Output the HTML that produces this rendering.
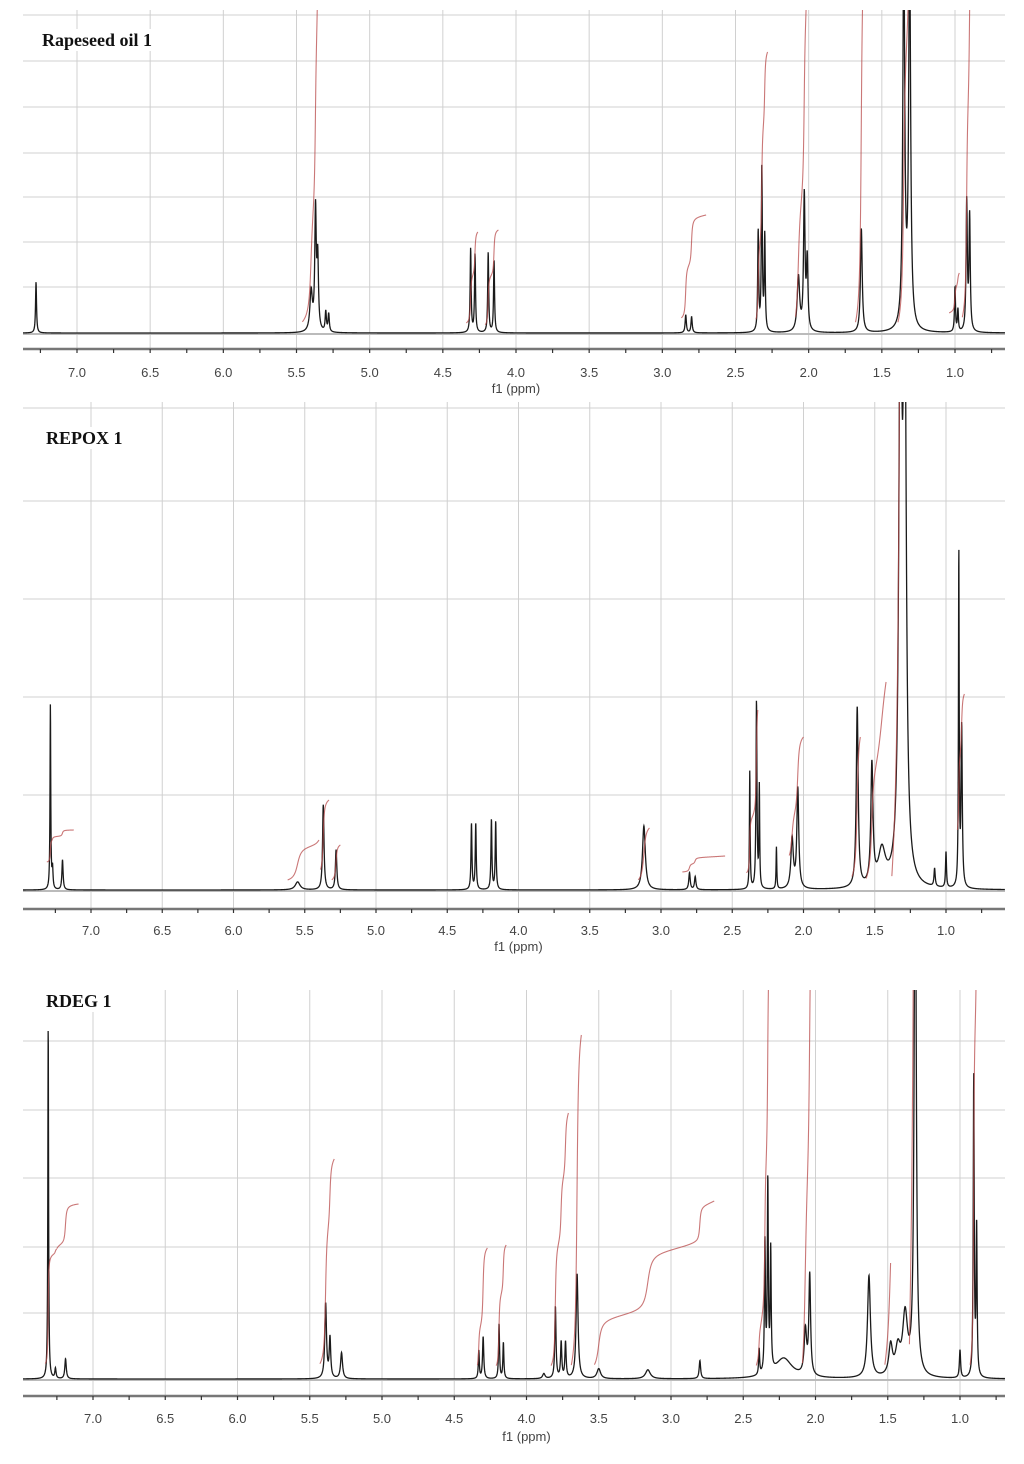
<!DOCTYPE html>
<html><head><meta charset="utf-8"><title>NMR spectra</title>
<style>
html,body{margin:0;padding:0;background:#fff;}
svg{display:block;}
text{font-family:"Liberation Sans",sans-serif;}
.title{font-family:"Liberation Serif",serif;font-weight:bold;font-size:18px;fill:#111;}
.tick{font-size:13px;fill:#444;}
</style></head>
<body>
<svg id="chart" width="1024" height="1464" viewBox="0 0 1024 1464" xmlns="http://www.w3.org/2000/svg"></svg>
<script>
// ---- data: peaks [ppm, intensity, width(ppm)] ----
const peaks1 = [[7.28,51,0.004],[5.40,40,0.01],[5.37,120,0.006],[5.355,70,0.006],[5.30,20,0.005],[5.28,18,0.005],
 [4.31,84,0.004],[4.28,78,0.004],[4.19,80,0.004],[4.15,72,0.004],[2.84,18,0.005],[2.80,16,0.005],
 [2.345,100,0.004],[2.32,165,0.004],[2.30,95,0.004],[2.07,55,0.01],[2.03,135,0.006],[2.01,70,0.006],
 [1.64,104,0.007],[1.35,380,0.008],[1.31,380,0.008],[1.00,45,0.004],[0.98,22,0.004],[0.92,130,0.005],[0.90,115,0.005]];
const integrals1 = [[5.46,5.32,11,420],[4.34,4.26,10,101],[4.21,4.12,8,103],[2.87,2.70,15,118],[2.36,2.28,13,281],
 [2.09,1.99,15,420],[1.68,1.55,10,420],[1.39,1.31,10,420],[0.95,0.87,15,420],[1.04,0.97,20,60]];

const peaks2 = [[7.285,185,0.003],[7.27,20,0.004],[7.20,30,0.005],[5.55,8,0.02],[5.37,85,0.006],[5.28,40,0.006],
 [4.33,66,0.004],[4.30,66,0.004],[4.19,70,0.004],[4.16,68,0.004],[3.12,64,0.012],[2.80,17,0.006],[2.76,13,0.006],
 [2.377,118,0.003],[2.33,188,0.004],[2.31,100,0.003],[2.19,42,0.003],[2.08,50,0.01],[2.04,100,0.008],
 [1.623,180,0.008],[1.52,120,0.009],[1.45,35,0.03],[1.32,600,0.012],[1.29,600,0.012],[1.08,18,0.005],[1.00,36,0.004],
 [0.91,335,0.003],[0.89,160,0.005]];
const integrals2 = [[7.31,7.12,28,60],[5.62,5.40,10,50],[5.39,5.33,20,90],[5.31,5.25,10,45],[3.16,3.08,10,62],
 [2.85,2.55,18,34],[2.40,2.32,17,180],[2.10,2.00,34,153],[1.66,1.60,13,153],[1.56,1.42,11,208],[1.38,1.32,11,700],[0.92,0.87,59,196]];

const peaks3 = [[7.31,355,0.003],[7.26,10,0.005],[7.19,20,0.006],[5.39,75,0.007],[5.36,40,0.006],[5.28,26,0.008],
 [4.33,28,0.004],[4.30,42,0.005],[4.19,55,0.004],[4.16,36,0.004],[3.88,5,0.01],[3.80,72,0.005],[3.76,36,0.005],[3.73,36,0.005],
 [3.65,105,0.008],[3.50,10,0.015],[3.16,9,0.02],[2.80,18,0.006],[2.39,26,0.004],[2.35,130,0.004],[2.33,190,0.004],[2.31,120,0.004],
 [2.22,20,0.07],[2.07,45,0.01],[2.04,100,0.007],[1.63,102,0.012],[1.48,30,0.015],[1.43,26,0.02],[1.38,60,0.02],
 [1.31,600,0.008],[1.00,28,0.005],[0.905,300,0.004],[0.885,150,0.004]];
const integrals3 = [[7.33,7.25,15,130],[7.25,7.10,130,175],[5.43,5.33,15,220],[4.34,4.27,13,131],[4.21,4.14,13,134],
 [3.83,3.71,13,266],[3.69,3.62,13,344],[3.53,2.70,14,178],[2.41,2.31,13,500],[2.09,2.01,13,500],[1.52,1.48,13,116],
 [1.35,1.32,25,500],[0.93,0.88,13,500]];

const tickLabels = ["7.0","6.5","6.0","5.5","5.0","4.5","4.0","3.5","3.0","2.5","2.0","1.5","1.0"];
const tickValues = [7.0,6.5,6.0,5.5,5.0,4.5,4.0,3.5,3.0,2.5,2.0,1.5,1.0];

const panels = [
 {name:"rapeseed-oil-1",title:"Rapeseed oil 1",tx:42,ty:46,x7:77,x1:955,top:10,base:333,axisY:349,lblY:377,f1Y:393,
  hgrid:[15,61,107,153,197,242,287],peaks:peaks1,ints:integrals1},
 {name:"repox-1",title:"REPOX 1",tx:46,ty:444,x7:91,x1:946,top:402,base:890,axisY:909,lblY:935,f1Y:951,
  hgrid:[408,501,599,697,795],peaks:peaks2,ints:integrals2},
 {name:"rdeg-1",title:"RDEG 1",tx:46,ty:1007,x7:93,x1:960,top:990,base:1379,axisY:1396,lblY:1423,f1Y:1441,
  hgrid:[1041,1110,1178,1247,1313],peaks:peaks3,ints:integrals3}
];
const L=23,R=1005,NS="http://www.w3.org/2000/svg";
const svg=document.getElementById('chart');
function mk(tag,attrs,parent){const e=document.createElementNS(NS,tag);for(const k in attrs)e.setAttribute(k,attrs[k]);parent.appendChild(e);return e;}
function spec(peaks,p){let s=0;for(const q of peaks){const d=(p-q[0])/q[2];s+=q[1]/(1+d*d);}return s;}

panels.forEach((P,pi)=>{
 const g=mk('g',{},svg);
 
 
 const sc=(P.x1-P.x7)/6;
 const xm=p=>P.x7+(7-p)*sc;
 const ym=v=>P.base-v;
 const pL=7-(L-P.x7)/sc, pR=7-(R-P.x7)/sc;
 const cid='clip'+pi;
 const cp=mk('clipPath',{id:cid},g);
 mk('rect',{x:L,y:P.top,width:R-L,height:P.axisY-P.top-4},cp);
 const grid=mk('g',{stroke:'#d0d0d0','stroke-width':1},g);
 
 
 P.hgrid.forEach(y=>mk('line',{x1:L,x2:R,y1:y,y2:y},grid));
 tickValues.forEach(v=>mk('line',{x1:xm(v),x2:xm(v),y1:P.top,y2:P.axisY},grid));
 mk('line',{x1:L,x2:R,y1:P.base+1,y2:P.base+1,stroke:'#bbb','stroke-width':2},g);
 let d='';const step=0.0012;
 for(let p=pL;p>=pR;p-=step){const v=spec(P.peaks,p);d+=(d?'L':'M')+xm(p).toFixed(2)+' '+ym(v).toFixed(2);}
 const sp=mk('path',{d:d,fill:'none',stroke:'#1a1a1a','stroke-width':1.3,'clip-path':'url(#'+cid+')'},g);
 
 
 P.ints.forEach(it=>{
  const [a,b,h0,h1]=it;const pts=[];let cum=0;
  for(let p=a;p>=b;p-=step){cum+=spec(P.peaks,p);pts.push([p,cum]);}
  const tot=cum||1;let dd='';
  pts.forEach(q=>{dd+=(dd?'L':'M')+xm(q[0]).toFixed(2)+' '+ym(h0+(h1-h0)*q[1]/tot).toFixed(2);});
  const ip=mk('path',{d:dd,fill:'none',stroke:'#b84a4a','stroke-opacity':0.75,'stroke-width':1.1,'clip-path':'url(#'+cid+')'},g);
  
  
 });
 const ax=mk('g',{},g);
 
 
 mk('line',{x1:L,x2:R,y1:P.axisY,y2:P.axisY,stroke:'#777','stroke-width':2.5},ax);
 for(let v=7.25;v>=0.75;v-=0.25){const x=xm(v);if(x<L||x>R)continue;mk('line',{x1:x,x2:x,y1:P.axisY,y2:P.axisY+4,stroke:'#333','stroke-width':1.2},ax);}
 tickValues.forEach((v,i)=>{
  const t=mk('text',{x:xm(v),y:P.lblY,'text-anchor':'middle',class:'tick'},ax);
  t.textContent=tickLabels[i];
  
  
 });
 const f=mk('text',{x:xm(4.0),y:P.f1Y,'text-anchor':'middle',class:'tick'},ax);
 f.textContent='f1 (ppm)';
 
 
 mk('rect',{x:P.tx-4,y:P.ty-17,width:P.title.length*10+6,height:22,fill:'#fff'},g);
 const tt=mk('text',{x:P.tx,y:P.ty,class:'title'},g);
 tt.textContent=P.title;
 
 
});
</script>
</body></html>
